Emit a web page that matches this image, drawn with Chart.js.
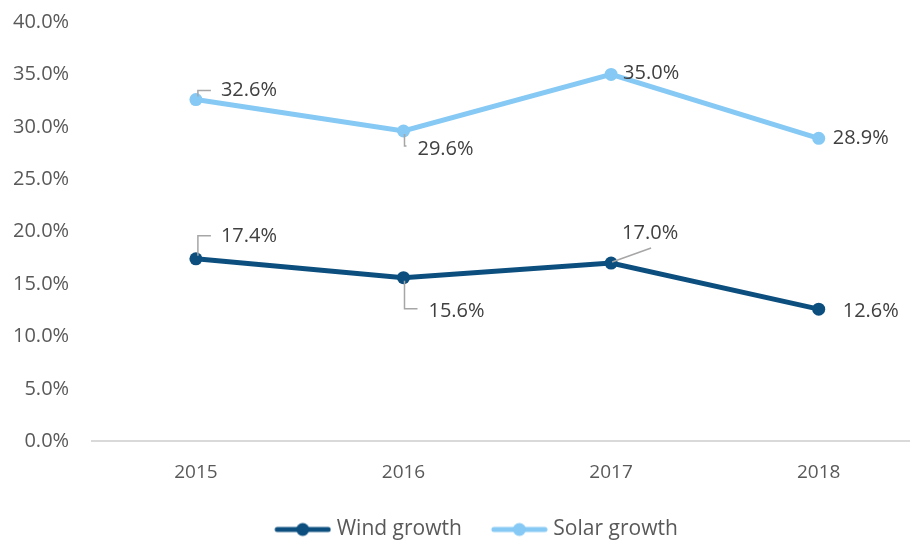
<!DOCTYPE html>
<html>
<head>
<meta charset="utf-8">
<script src="https://cdn.jsdelivr.net/npm/chart.js@4.4.0/dist/chart.umd.min.js"></script>
<style>
  html, body { margin: 0; padding: 0; background: #fff; overflow: hidden; width: 910px; height: 540px; }
  #wrap { position: relative; margin-left: -14px; margin-top: -13px; width: 943px; height: 563px; }
</style>
</head>
<body>
<div id="wrap"><canvas id="chart"></canvas></div>
<script>
const years = ['2015', '2016', '2017', '2018'];
const windGrowth = [17.4, 15.6, 17.0, 12.6];
const solarGrowth = [32.6, 29.6, 35.0, 28.9];
const yTicks = [0, 5, 10, 15, 20, 25, 30, 35, 40];

const windColor = '#0c4f7f';
const solarColor = '#85c9f4';
const textColor = '#595959';
const fontFamily = "'Open Sans', 'Noto Sans', sans-serif";
const legendShift = 11;

// where each data label sits relative to its point, and how the leader line goes
const windLabels = [
    { dx: 25, dy: -23, leader: 'elbowUp' },
    { dx: 25, dy: 34, leader: 'elbowDown' },
    { dx: 11, dy: -30, leader: 'diag' },
    { dx: 24, dy: 2, leader: 'none' }
];
const solarLabels = [
    { dx: 25, dy: -9, leader: 'elbowUp' },
    { dx: 14, dy: 18, leader: 'elbowDown' },
    { dx: 12, dy: -1, leader: 'none' },
    { dx: 14, dy: 0, leader: 'none' }
];

// legend marker: line with a dot, with some empty room on the left as item gap
function legendIcon(color) {
    const c = document.createElement('canvas');
    c.width = 76; c.height = 16;
    const g = c.getContext('2d');
    g.strokeStyle = color;
    g.lineWidth = 5;
    g.lineCap = 'round';
    g.beginPath(); g.moveTo(22, 8); g.lineTo(73, 8); g.stroke();
    g.fillStyle = color;
    g.beginPath(); g.arc(47.5, 8, 6.5, 0, Math.PI * 2); g.fill();
    return c;
}

const labelPlugin = {
    id: 'leaderLabels',
    afterLayout(chart) {
        // Excel centres the legend a bit further right
        chart.legend.left += legendShift;
        chart.legend.right += legendShift;
    },
    afterDatasetsDraw(chart) {
        const ctx = chart.ctx;
        const sets = [windLabels, solarLabels];
        ctx.save();
        ctx.font = '20px ' + fontFamily;
        ctx.fillStyle = '#404040';
        ctx.textBaseline = 'middle';
        ctx.textAlign = 'left';
        chart.data.datasets.forEach((ds, di) => {
            const meta = chart.getDatasetMeta(di);
            meta.data.forEach((pt, i) => {
                const pos = sets[di][i];
                const tx = pt.x + pos.dx;
                const ty = pt.y + pos.dy;
                ctx.strokeStyle = '#a6a6a6';
                ctx.lineWidth = 1.5;
                ctx.beginPath();
                if (pos.leader === 'elbowUp') {
                    ctx.moveTo(pt.x + 2, pt.y - 3);
                    ctx.lineTo(pt.x + 2, ty);
                    ctx.lineTo(tx - 10, ty);
                } else if (pos.leader === 'elbowDown') {
                    ctx.moveTo(pt.x + 1, pt.y + 3);
                    ctx.lineTo(pt.x + 1, ty - 3);
                    ctx.lineTo(tx - 11, ty - 3);
                } else if (pos.leader === 'diag') {
                    ctx.moveTo(pt.x + 1, pt.y - 1);
                    ctx.lineTo(pt.x + 40, pt.y - 15);
                }
                ctx.stroke();
                ctx.fillText(ds.data[i].toFixed(1) + '%', tx, ty);
            });
        });
        ctx.restore();
    }
};

const ctx = document.getElementById('chart').getContext('2d');
const myChart = new Chart(ctx, {
    type: 'line',
    data: {
        labels: years,
        datasets: [{
            label: 'Wind growth',
            data: windGrowth,
            borderColor: windColor,
            backgroundColor: windColor,
            borderWidth: 5,
            pointRadius: 6.5,
            pointHoverRadius: 6.5,
            pointStyle: 'circle',
            pointBackgroundColor: windColor,
            pointBorderWidth: 0
        }, {
            label: 'Solar growth',
            data: solarGrowth,
            borderColor: solarColor,
            backgroundColor: solarColor,
            borderWidth: 5,
            pointRadius: 6.5,
            pointHoverRadius: 6.5,
            pointStyle: 'circle',
            pointBackgroundColor: solarColor,
            pointBorderWidth: 0
        }]
    },
    options: {
        responsive: true,
        maintainAspectRatio: false,
        animation: false,
        layout: { padding: { top: 0, left: 4, right: 3, bottom: 0 } },
        plugins: {
            tooltip: { enabled: false },
            legend: {
                position: 'bottom',
                labels: {
                    usePointStyle: true,
                    pointStyleWidth: 66,
                    color: textColor,
                    padding: 15,
                    font: { family: fontFamily, size: 21 },
                    generateLabels(chart) {
                        return chart.data.datasets.map((ds, i) => ({
                            text: ds.label,
                            pointStyle: legendIcon(ds.borderColor),
                            fillStyle: ds.borderColor,
                            strokeStyle: ds.borderColor,
                            lineWidth: 0,
                            fontColor: textColor,
                            datasetIndex: i
                        }));
                    }
                }
            }
        },
        scales: {
            x: {
                offset: true,
                grid: { display: false, drawTicks: false, offset: true },
                border: { color: '#d9d9d9', width: 2 },
                ticks: { color: textColor, padding: 20, font: { family: fontFamily, size: 19 } }
            },
            y: {
                min: 0,
                max: 40,
                afterBuildTicks(axis) {
                    axis.ticks = yTicks.map(v => ({ value: v }));
                },
                grid: { display: false, drawTicks: false },
                border: { display: false },
                ticks: {
                    color: textColor,
                    padding: 23,
                    font: { family: fontFamily, size: 20 },
                    callback: v => v.toFixed(1) + '%'
                }
            }
        }
    },
    plugins: [labelPlugin]
});
</script>
</body>
</html>
